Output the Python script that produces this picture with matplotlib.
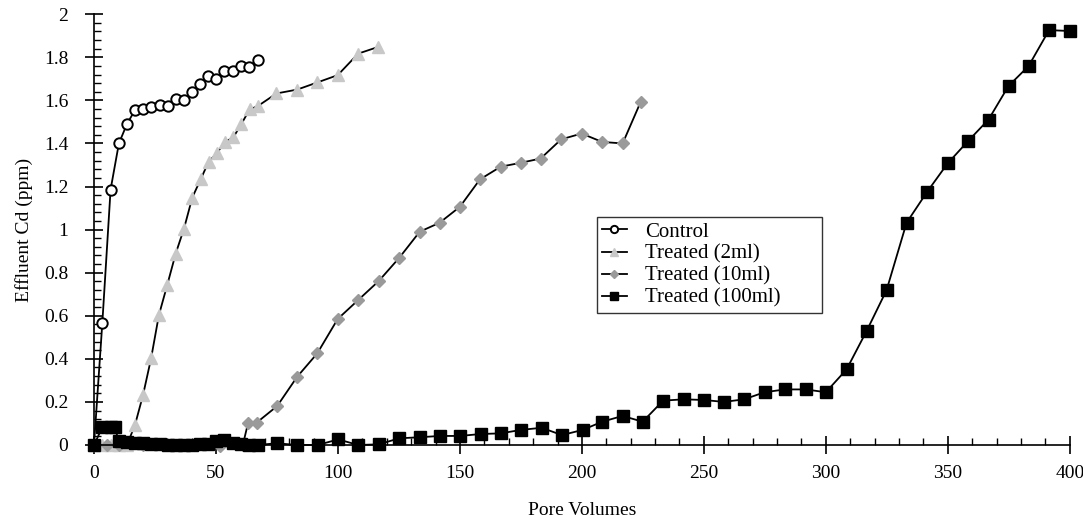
import numpy as np
import matplotlib.pyplot as plt
from matplotlib.ticker import MultipleLocator, FuncFormatter

plt.rcParams['font.family'] = ['Liberation Serif', 'DejaVu Serif']

# Control
pv_control = [0, 3.4, 6.8, 10.2, 13.5, 16.8, 20.1, 23.4, 26.9, 30.2, 33.5,
              36.9, 40.2, 43.4, 46.7, 50.0, 53.3, 56.8, 60.1, 63.4, 67.2]
cd_control = [0, 0.565, 1.186, 1.40, 1.49, 1.555, 1.56, 1.567, 1.579, 1.576, 1.605,
              1.602, 1.64, 1.678, 1.712, 1.70, 1.737, 1.734, 1.759, 1.756, 1.787]

# Treated (2ml)
pv_2ml = [0, 3.4, 6.8, 10.2, 13.5, 16.8, 20.1, 23.4, 26.6, 30.0, 33.5, 36.9,
          40.3, 43.7, 47.0, 50.3, 53.7, 57.1, 60.4, 63.8, 67.1, 74.8, 83.3,
          91.5, 99.9, 108.3, 116.5]
cd_2ml = [0, 0, 0, 0, 0, 0.093, 0.232, 0.402, 0.603, 0.742, 0.889, 1.005,
          1.149, 1.233, 1.315, 1.354, 1.407, 1.428, 1.49, 1.558, 1.573, 1.632, 1.65,
          1.683, 1.717, 1.817, 1.848]

# Treated (10ml)
pv_10ml = [0, 5.2, 10.2, 20.1, 30.2, 40.2, 51.6, 61.0, 63.2, 66.7, 75.1, 83.3,
           91.5, 99.9, 108.3, 116.7, 125.2, 133.5, 141.7, 150.0, 158.2, 166.7,
           174.9, 183.1, 191.5, 199.9, 208.3, 216.7, 224.1]
cd_10ml = [0, 0, 0, 0, 0, 0, -0.005, 0, 0.104, 0.104, 0.181, 0.317,
           0.425, 0.585, 0.673, 0.761, 0.87, 0.99, 1.032, 1.106, 1.233, 1.292,
           1.31, 1.33, 1.419, 1.446, 1.407, 1.40, 1.593]

# Treated (100ml)
pv_100ml = [0, 3.4, 6.8, 8.5, 10.2, 13.5, 16.8, 20.1, 23.4, 26.9, 30.2, 33.5,
            36.9, 40.2, 43.4, 46.7, 50.0, 53.3, 56.8, 60.1, 63.4, 67.2, 74.9,
            83.3, 91.7, 100.1, 108.3, 116.7, 125.1, 133.5, 141.8, 150.1, 158.5,
            166.7, 175.0, 183.5, 191.8, 200.3, 208.3, 216.7, 224.9, 233.3, 241.7,
            250.0, 258.2, 266.5, 274.9, 283.3, 291.7, 300.0, 308.5, 316.7, 324.9,
            333.1, 341.5, 349.9, 358.3, 366.7, 374.9, 383.1, 391.5, 400.0]
cd_100ml = [0, 0.082, 0.082, 0.082, 0.017, 0.015, 0.01, 0.008, 0.005, 0.003, 0, 0,
            0, 0, 0.003, 0.005, 0.02, 0.022, 0.008, 0.005, 0, 0, 0.008,
            0, 0, 0.026, 0, 0.003, 0.031, 0.036, 0.042, 0.042, 0.051,
            0.054, 0.070, 0.080, 0.046, 0.070, 0.108, 0.135, 0.108, 0.206, 0.212,
            0.209, 0.20, 0.212, 0.245, 0.258, 0.258, 0.245, 0.351, 0.529, 0.719,
            1.032, 1.175, 1.307, 1.411, 1.511, 1.667, 1.759, 1.926, 1.922]

fig = plt.figure(figsize=(10.83, 5.26), dpi=100)
ax = fig.add_axes([0.0868, 0.154, 0.901, 0.819])

ax.plot(pv_control, cd_control, color='black', lw=1.3, marker='o', ms=7.5,
        mfc='white', mec='black', mew=1.4, label='Control', zorder=3)
ax.plot(pv_2ml, cd_2ml, color='black', lw=1.3, marker='^', ms=9,
        mfc='#c8c8c8', mec='#c8c8c8', label='Treated (2ml)', zorder=2)
ax.plot(pv_10ml, cd_10ml, color='black', lw=1.3, marker='D', ms=6,
        mfc='#9a9a9a', mec='#9a9a9a', label='Treated (10ml)', zorder=2)
ax.plot(pv_100ml, cd_100ml, color='black', lw=1.3, marker='s', ms=8.5,
        mfc='black', mec='black', label='Treated (100ml)', zorder=4)

ax.set_xlim(0, 400)
ax.set_ylim(0, 2)
for s in ['top', 'right']:
    ax.spines[s].set_visible(False)
for s in ['left', 'bottom']:
    ax.spines[s].set_linewidth(1.2)
for ln in ax.lines:
    ln.set_clip_on(False)

ax.xaxis.set_major_locator(MultipleLocator(50))
ax.xaxis.set_minor_locator(MultipleLocator(10))
ax.yaxis.set_major_locator(MultipleLocator(0.2))
ax.yaxis.set_minor_locator(MultipleLocator(0.04))
ax.yaxis.set_major_formatter(FuncFormatter(lambda v, p: f'{v:g}'))
ax.tick_params(which='major', direction='inout', length=13, width=1.2,
               labelsize=14)
ax.tick_params(axis='y', which='major', pad=12)
ax.tick_params(axis='x', which='major', pad=8)
ax.tick_params(which='minor', direction='in', length=5, width=1.0)

ax.set_xlabel('Pore Volumes', fontsize=14, labelpad=14)
ax.set_ylabel('Effluent Cd (ppm)', fontsize=14, labelpad=8)

leg = ax.legend(loc='lower left', bbox_to_anchor=(0.515, 0.306, 0.231, 0.235),
                mode='expand', fontsize=15, frameon=True, fancybox=False,
                edgecolor='black', handlelength=1.2, handletextpad=0.9,
                labelspacing=0.12, borderpad=0.25, borderaxespad=0, markerscale=0.7)
leg.get_frame().set_linewidth(1.0)

fig.savefig('out.png', dpi=100)
